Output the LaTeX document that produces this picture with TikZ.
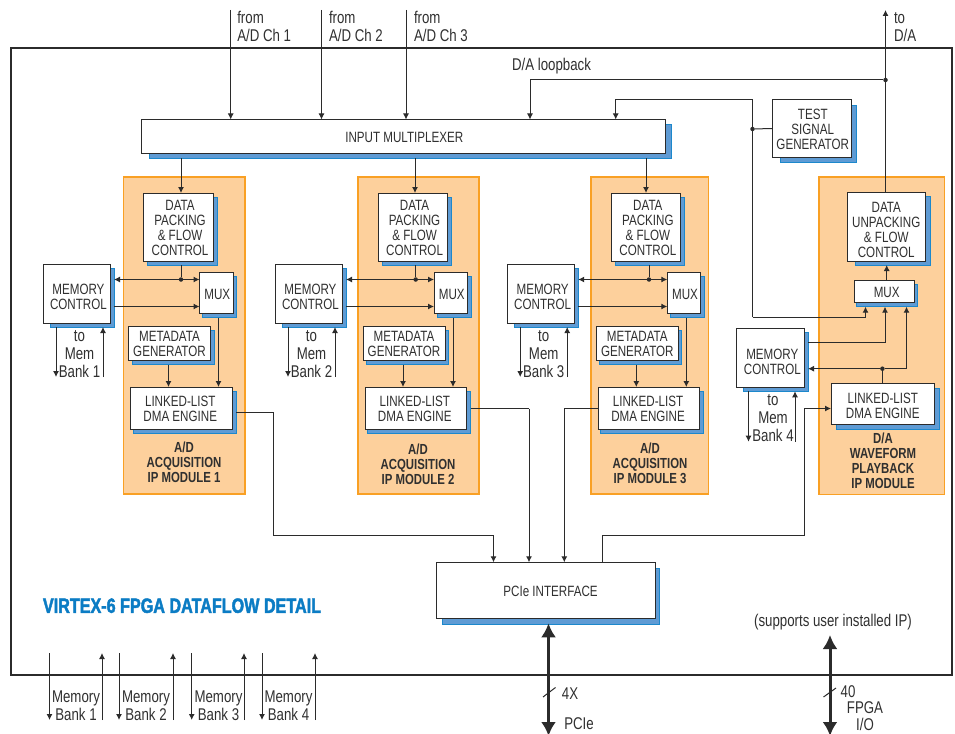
\documentclass[tikz,border=0pt]{standalone}
\usepackage{fontspec}
\setmainfont[FakeStretch=0.78]{Liberation Sans}
\usetikzlibrary{arrows.meta}
\definecolor{linec}{HTML}{2B2B2B}
\definecolor{textc}{HTML}{303030}
\definecolor{shadf}{HTML}{5F9BD4}
\definecolor{shadd}{HTML}{1C88CC}
\definecolor{orf}{HTML}{FDD09C}
\definecolor{ord}{HTML}{F9A024}
\definecolor{titlec}{HTML}{0B7CC4}
% text block centred on the node, shifted by dx, dy
\newcommand\tblk[3]{\smash{\lower\dimexpr6.3pt+#2pt\relax\hbox{\kern#1pt\kern#1pt\begin{tabular}{@{}c@{}}#3\end{tabular}}}}
\newcommand\tblkl[1]{\smash{\lower6.3pt\hbox{\begin{tabular}{@{}l@{}}#1\end{tabular}}}}
% name,x1,y1,x2,y2,right,bottom,left,text
\newcommand\shbox[9]{%
  \pgfmathsetmacro\bW{#4-#2}\pgfmathsetmacro\bH{#5-#3}%
  \pgfmathsetmacro\bX{(#2+#4)/2}\pgfmathsetmacro\bY{(#3+#5)/2}%
  \pgfmathsetmacro\sW{#4+#6-#2-#8}%
  \pgfmathsetmacro\sX{(#2+#8+#4+#6)/2}\pgfmathsetmacro\sY{(#3+#5)/2+#7}%
  \node[shadbox,minimum width=\sW pt,minimum height=\bH pt] (#1s) at (\sX,\sY) {};
  \node[mainbox,minimum width=\bW pt,minimum height=\bH pt] (#1) at (\bX,\bY) {#9};
}
\newcommand\orbox[5]{%
  \pgfmathsetmacro\bW{#4-#2}\pgfmathsetmacro\bH{#5-#3}%
  \pgfmathsetmacro\bX{(#2+#4)/2}\pgfmathsetmacro\bY{(#3+#5)/2}%
  \node[modbox,minimum width=\bW pt,minimum height=\bH pt] (#1) at (\bX,\bY) {};
}
% n, orange L, orange R, dx, memory dx, x of input, x of dot, label cx, label cy
\newcommand\admodule[9]{%
  \orbox{or#1}{#2}{177}{#3}{494}
  \pgfmathsetmacro\dA{#4}\pgfmathsetmacro\dM{#5}%
  \pgfmathsetmacro\xa{143.5+\dA}\pgfmathsetmacro\xb{213+\dA}%
  \shbox{dp#1}{\xa}{193}{\xb}{261}{4}{4}{4}{\tblk{1.8}{0.5}{DATA\\PACKING\\\& FLOW\\CONTROL}}
  \pgfmathsetmacro\xa{43.5+\dM}\pgfmathsetmacro\xb{110+\dM}%
  \shbox{mc#1}{\xa}{264}{\xb}{323}{4}{4}{6.5}{\tblk{1.7}{3}{MEMORY\\CONTROL}}
  \pgfmathsetmacro\xa{199.5+\dA}\pgfmathsetmacro\xb{233+\dA}%
  \shbox{mx#1}{\xa}{272.5}{\xb}{313.5}{3.5}{4}{3}{\tblk{1}{1}{MUX}}
  \pgfmathsetmacro\xa{128.5+\dA}\pgfmathsetmacro\xb{210.5+\dA}%
  \shbox{md#1}{\xa}{326.5}{\xb}{360.5}{3.5}{4}{3.5}{\tblk{0}{0}{METADATA\\GENERATOR}}
  \pgfmathsetmacro\xa{130.5+\dA}\pgfmathsetmacro\xb{232+\dA}%
  \shbox{ll#1}{\xa}{387}{\xb}{429}{4}{4}{2.5}{\tblk{-1}{0}{LINKED-LIST\\DMA ENGINE}}
  \node[lblb] (tt#1) at (#8,#9) {\tblk{0}{0}{A/D\\ACQUISITION\\IP MODULE #1}};
  \pgfmathsetmacro\xd{54+\dM+2}\pgfmathsetmacro\xu{101+\dM+2}\pgfmathsetmacro\xt{77.5+\dM+2}%
  \node[lbl] (mt#1) at (\xt,354) {\tblk{0}{0}{to\\Mem\\Bank #1}};
  \coordinate (bd#1) at (\xd,377);
  \coordinate (bu#1) at (\xu,377);
  \node[jdot] (jd#1) at (#7,279.5) {};
  \pgfmathsetmacro\xmm{168.5+\dA}\pgfmathsetmacro\xmx{218.5+\dA}%
  \draw[plain] (dp#1s.south -| #7,0) -- (jd#1);
  \draw[conn2] (mc#1s.east |- jd#1) -- (mx#1.west |- jd#1);
  \draw[conn] (mc#1s.east |- 0,306.5) -- (mx#1.west |- 0,306.5);
  \draw[conn] (mx#1s.south -| \xmx,0) -- (ll#1.north -| \xmx,0);
  \draw[conn] (md#1s.south -| \xmm,0) -- (ll#1.north -| \xmm,0);
  \draw[conn] (mc#1s.south -| bd#1) -- (bd#1);
  \draw[conn] (bu#1) -- (mc#1s.south -| bu#1);
  \draw[conn] (imuxs.south -| #6,0) -- (dp#1.north -| #6,0);
}
\tikzset{
  mainbox/.style={draw=linec,fill=white,line width=1pt,inner sep=0pt,outer sep=0pt,text=textc,font=\fontsize{14.9}{15}\selectfont},
  shadbox/.style={draw=shadd,fill=shadf,line width=0.8pt,inner sep=0pt,outer sep=0pt},
  modbox/.style={draw=ord,fill=orf,line width=1.5pt,inner sep=0pt,outer sep=0pt},
  outerbox/.style={draw=linec,fill=white,line width=1.3pt,inner sep=0pt,outer sep=0pt},
  lbl/.style={text=textc,inner sep=0pt,outer sep=0pt,font=\fontsize{17}{18}\selectfont},
  lblb/.style={text=textc,inner sep=0pt,outer sep=0pt,font=\fontsize{14.6}{15}\selectfont\bfseries},
  conn/.style={draw=linec,line width=1pt,-{Latex[length=6pt,width=6pt]}},
  conn2/.style={draw=linec,line width=1pt,{Latex[length=6pt,width=6pt]}-{Latex[length=6pt,width=6pt]}},
  plain/.style={draw=linec,line width=1pt},
  thick2/.style={draw=linec,line width=3pt,{Latex[length=14pt,width=15pt]}-{Latex[length=14pt,width=15pt]}},
  jdot/.style={circle,fill=linec,inner sep=0pt,minimum size=4.5pt,outer sep=0pt},
}
\begin{document}
\begin{tikzpicture}[x=1pt,y=-1pt]
\useasboundingbox (0,0) rectangle (955,733);
\node[outerbox,minimum width=941pt,minimum height=627pt] (fpga) at (481.5,361.5) {};
\shbox{imux}{141.5}{119.5}{665}{153.5}{6}{4.5}{8}{\tblk{1}{0}{INPUT MULTIPLEXER}}
\admodule{1}{123.5}{245}{0}{0}{181}{181}{184}{462}
\admodule{2}{358}{479}{234.5}{232}{415}{415.7}{418}{464}
\admodule{3}{591}{708.7}{467.8}{464.2}{646}{649}{650}{463}
% D/A module
\orbox{or4}{819}{177}{944.5}{494.3}
\shbox{dup}{847}{192.3}{925.5}{261}{4.5}{4}{8}{\tblk{0}{2.3}{DATA\\UNPACKING\\\& FLOW\\CONTROL}}
\shbox{mx4}{854}{280}{914}{302.7}{3.5}{4}{2.5}{\tblk{2.7}{0.7}{MUX}}
\shbox{mc4}{736.7}{328}{804}{387.3}{4}{4}{6.5}{\tblk{2}{3.6}{MEMORY\\CONTROL}}
\shbox{ll4}{831}{383.7}{934.5}{424.7}{4.5}{4.5}{5}{\tblk{0}{1}{LINKED-LIST\\DMA ENGINE}}
\node[lblb] (tt4) at (883,460.5) {\tblk{0}{0}{D/A\\WAVEFORM\\PLAYBACK\\IP MODULE}};
\node[lbl] (mt4) at (773,417.5) {\tblk{0}{0}{to\\Mem\\Bank 4}};
% other blocks
\shbox{tsg}{772.5}{100}{851}{157}{5}{5.5}{7.5}{\tblk{1}{0}{TEST\\SIGNAL\\GENERATOR}}
\shbox{pcie}{436.5}{562.3}{655}{618.3}{4.5}{6.4}{6}{\tblk{4.8}{0.7}{PCIe INTERFACE}}
% free labels
\node[lbl,anchor=west] (f1) at (237.3,27) {\tblkl{from\\A/D Ch 1}};
\node[lbl,anchor=west] (f2) at (329,27) {\tblkl{from\\A/D Ch 2}};
\node[lbl,anchor=west] (f3) at (414,27) {\tblkl{from\\A/D Ch 3}};
\node[lbl,anchor=west] (f4) at (894,26.5) {\tblkl{to\\D/A}};
\node[lbl] (lb) at (551.5,65) {\tblk{0}{0}{D/A loopback}};
\node[lbl] (sup) at (833,621) {\tblk{0}{0}{(supports user installed IP)}};
\node[lbl] (m1) at (76,706) {\tblk{0}{0}{Memory\\Bank 1}};
\node[lbl] (m2) at (146,706) {\tblk{0}{0}{Memory\\Bank 2}};
\node[lbl] (m3) at (218.5,706) {\tblk{0}{0}{Memory\\Bank 3}};
\node[lbl] (m4) at (288.5,706) {\tblk{0}{0}{Memory\\Bank 4}};
\node[lbl] (x4) at (570,694) {\tblk{0}{0}{4X}};
\node[lbl] (pc) at (579,724) {\tblk{0}{0}{PCIe}};
\node[lbl] (n40) at (848,692) {\tblk{0}{0}{40}};
\node[lbl,font=\fontsize{17}{15.5}\selectfont] (fio) at (865,716.75) {\tblk{0}{0}{FPGA\\I/O}};
\node[text=titlec,inner sep=0pt,font=\fontsize{20.7}{20}\selectfont\bfseries\addfontfeature{FakeBold=2}] (ttl) at (182,607.5) {\tblk{0}{0}{VIRTEX-6 FPGA DATAFLOW DETAIL}};
% input arrows
\coordinate (a1) at (230.7,10); \coordinate (a2) at (321.5,10); \coordinate (a3) at (406,10);
\draw[conn] (a1) -- (imux.north -| a1);
\draw[conn] (a2) -- (imux.north -| a2);
\draw[conn] (a3) -- (imux.north -| a3);
% to D/A and loopback
\coordinate (da) at (885.5,10);
\node[jdot] (jda) at (885.5,80) {};
\coordinate (lpb) at (530,80);
\draw[conn] (dup.north -| da) -- (da);
\draw[conn] (jda) -- (lpb) -- (imux.north -| lpb);
% test signal
\node[jdot] (jts) at (752.5,129) {};
\coordinate (tc) at (752.5,100); \coordinate (ti) at (615.7,100);
\coordinate (tb) at (752.5,317.3); \coordinate (tm) at (865.5,317.3);
\draw[plain] (tsg.west) -- (jts);
\draw[conn] (tb) -- (tc) -- (ti) -- (imux.north -| ti);
\draw[conn] (tb) -- (tm) -- (mx4s.south -| tm);
% D/A internal
\node[jdot] (jl4) at (882.4,368.7) {};
\coordinate (c1) at (885,342.7); \coordinate (c2) at (906.5,368.7);
\draw[conn] (mx4.north -| 886.7,0) -- (dups.south -| 886.7,0);
\draw[conn] (mc4s.east |- c1) -- (c1) -- (mx4s.south -| c1);
\draw[plain] (ll4.north -| jl4) -- (jl4);
\draw[conn] (jl4) -- (mc4s.east |- jl4);
\draw[conn] (jl4) -- (c2) -- (mx4s.south -| c2);
\coordinate (bd4) at (748.5,441.7); \coordinate (bu4) at (795,441.7);
\draw[conn] (mc4s.south -| bd4) -- (bd4);
\draw[conn] (bu4) -- (mc4s.south -| bu4);
% DMA to PCIe
\coordinate (p1a) at (273,535.7); \coordinate (p1b) at (493.5,535.7);
\draw[plain] (ll1s.east) -- (ll1s.east -| p1a) -- (p1a) -- (p1b);
\draw[conn] (p1b) -- (pcie.north -| p1b);
\coordinate (p2a) at (529,408.5);
\draw[plain] (ll2s.east |- p2a) -- (p2a);
\draw[conn] (p2a) -- (pcie.north -| p2a);
\coordinate (p3a) at (564.3,408.5);
\draw[plain] (ll3.west |- p3a) -- (p3a);
\draw[conn] (p3a) -- (pcie.north -| p3a);
\coordinate (p4a) at (602,535.7); \coordinate (p4b) at (804.3,535.7); \coordinate (p4c) at (804.3,408.5);
\draw[conn] (pcie.north -| p4a) -- (p4a) -- (p4b) -- (p4c) -- (ll4.west |- p4c);
% bottom buses
\coordinate (b1) at (548.5,623.3); \coordinate (b2) at (548.5,736);
\draw[thick2] (b1) -- (b2);
\coordinate (s1) at (543,697); \coordinate (s2) at (555.5,687.5);
\draw[plain] (s1) -- (s2);
\coordinate (g1) at (830,635); \coordinate (g2) at (830,736);
\draw[thick2] (g1) -- (g2);
\coordinate (s3) at (823.5,697); \coordinate (s4) at (836,688);
\draw[plain] (s3) -- (s4);
% memory bank pairs
\foreach \n/\d/\u in {1/49.5/102,2/119/173,3/191.7/244,4/262/315}{
  \coordinate (kd\n) at (\d,653); \coordinate (ke\n) at (\d,720);
  \coordinate (ku\n) at (\u,653); \coordinate (kv\n) at (\u,720);
  \draw[conn] (kd\n) -- (ke\n);
  \draw[conn] (kv\n) -- (ku\n);
}
\end{tikzpicture}
\end{document}
